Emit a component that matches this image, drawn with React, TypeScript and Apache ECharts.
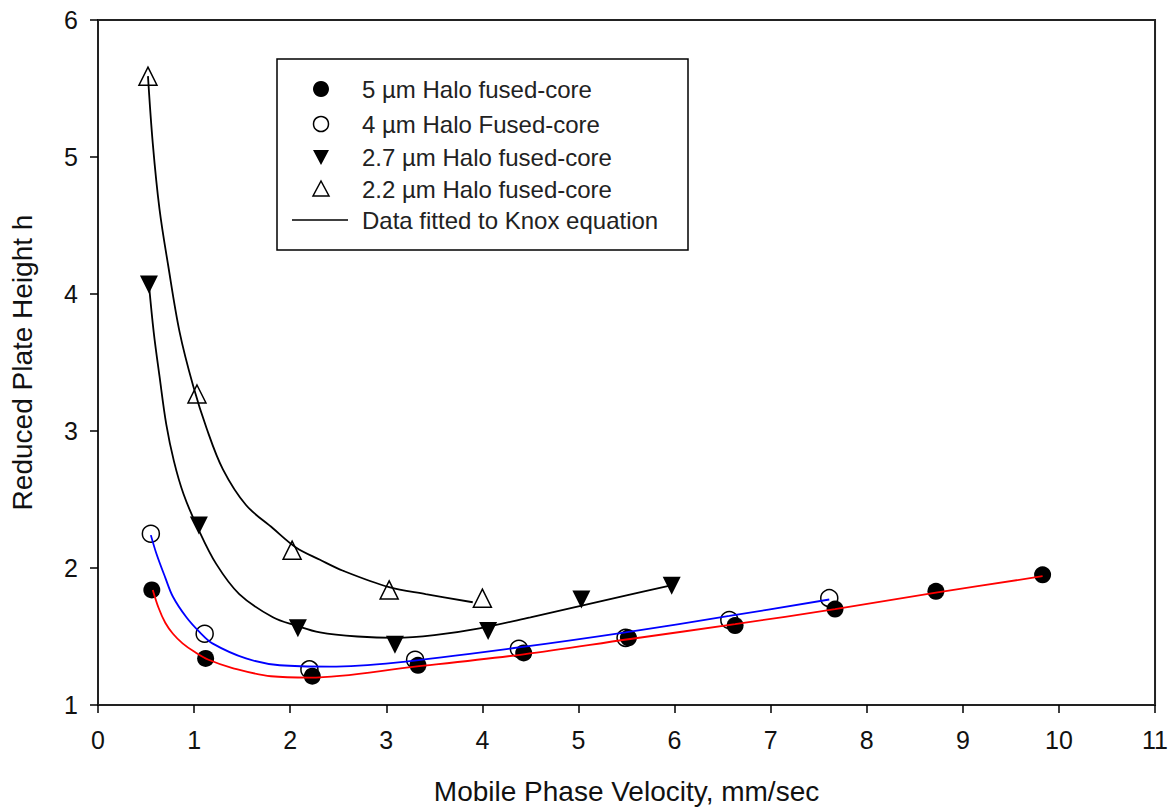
import React, { useEffect, useRef } from "react";
import * as echarts from "echarts";

// Measured points
const v5 = [0.56, 1.12, 2.23, 3.33, 4.43, 5.52, 6.63, 7.67, 8.72, 9.83];
const h5 = [1.84, 1.34, 1.21, 1.29, 1.38, 1.49, 1.58, 1.7, 1.83, 1.95];
const v4 = [0.55, 1.11, 2.2, 3.3, 4.38, 5.49, 6.57, 7.61];
const h4 = [2.25, 1.52, 1.26, 1.33, 1.41, 1.49, 1.62, 1.78];
const v27 = [0.53, 1.05, 2.08, 3.09, 4.06, 5.03, 5.97];
const h27 = [4.07, 2.31, 1.56, 1.44, 1.54, 1.77, 1.87];
const v22 = [0.52, 1.03, 2.02, 3.03, 4.0];
const h22 = [5.59, 3.27, 2.13, 1.84, 1.78];

// Knox fit curves
const fitV5 = [0.57, 0.63, 0.7, 0.78, 0.88, 1.0, 1.15, 1.4, 1.8, 2.2, 3.3, 4.43, 5.52, 6.63, 7.67, 8.72, 9.83];
const fitH5 = [1.84, 1.71, 1.6, 1.52, 1.45, 1.39, 1.33, 1.27, 1.21, 1.2, 1.28, 1.37, 1.48, 1.59, 1.7, 1.82, 1.94];
const fitV4 = [0.55, 0.61, 0.7, 0.78, 0.92, 1.06, 1.19, 1.54, 1.89, 2.41, 3.1, 4.38, 5.49, 6.57, 7.61];
const fitH4 = [2.24, 2.1, 1.93, 1.79, 1.64, 1.53, 1.45, 1.34, 1.29, 1.28, 1.31, 1.42, 1.53, 1.65, 1.77];
const fitV27 = [0.53, 0.58, 0.64, 0.71, 0.79, 0.89, 1.04, 1.23, 1.47, 1.82, 2.06, 2.31, 2.7, 3.1, 3.5, 3.97, 4.5, 5.0, 5.5, 5.94];
const fitH27 = [4.07, 3.72, 3.4, 3.05, 2.78, 2.54, 2.29, 2.03, 1.81, 1.64, 1.58, 1.53, 1.5, 1.49, 1.51, 1.56, 1.64, 1.72, 1.8, 1.87];
const fitV22 = [0.52, 0.57, 0.64, 0.73, 0.85, 0.99, 1.13, 1.3, 1.54, 1.82, 2.06, 2.31, 2.55, 3.03, 3.41, 3.9];
const fitH22 = [5.59, 5.1, 4.62, 4.21, 3.72, 3.33, 3.02, 2.72, 2.46, 2.29, 2.15, 2.06, 1.98, 1.86, 1.81, 1.75];

const xTicks = [0, 11];
const yTicks = [1, 6];
const legendLabels = [
  "5 \u00b5m Halo fused-core",
  "4 \u00b5m Halo Fused-core",
  "2.7 \u00b5m Halo fused-core",
  "2.2 \u00b5m Halo fused-core",
  "Data fitted to Knox equation",
];

const zip = (a: number[], b: number[]) => a.map((v, i) => [v, b[i]]);

export default function App() {
  const ref = useRef<HTMLDivElement>(null);
  useEffect(() => {
    if (!ref.current) return;
    const chart = echarts.init(ref.current, null, { renderer: "svg" });
    const font = "Liberation Sans, Arial, sans-serif";
    const axisCommon = {
      axisLine: { show: true, onZero: false, lineStyle: { color: "#222", width: 2 } },
      axisTick: { show: true, inside: false, length: 8, lineStyle: { color: "#000", width: 1.5 } },
      splitLine: { show: false },
      axisLabel: { color: "#111", fontSize: 25, fontFamily: font },
      nameTextStyle: { color: "#111", fontSize: 28, fontFamily: font },
    };
    const scatter = (name: string, data: number[][], symbol: string, filled: boolean, rotate = 0) => ({
      type: "scatter",
      name,
      data,
      symbol,
      symbolSize: symbol === "circle" ? 17 : 18,
      symbolRotate: rotate,
      z: 2,
      itemStyle: filled
        ? { color: "#000", borderColor: "#000", borderWidth: 0, opacity: 1 }
        : { color: "rgba(0,0,0,0)", borderColor: "#000", borderWidth: 1.5, opacity: 1 },
    });
    const fit = (data: number[][], color: string) => ({
      type: "line",
      data,
      smooth: 0.35,
      showSymbol: false,
      symbol: "none",
      z: 3,
      lineStyle: { color, width: 1.8 },
    });
    const lx = 321;
    const rows = [89, 124, 157, 189, 220];
    const tri = (cx: number, cy: number, down: boolean) =>
      down
        ? [[cx - 8, cy - 7], [cx + 8, cy - 7], [cx, cy + 8]]
        : [[cx - 8, cy + 7], [cx + 8, cy + 7], [cx, cy - 8]];
    chart.setOption({
      animation: false,
      backgroundColor: "#fff",
      grid: { left: 98, right: 14, top: 20, bottom: 102, show: true, borderColor: "#222", borderWidth: 2, backgroundColor: "transparent" },
      xAxis: {
        type: "value",
        min: xTicks[0],
        max: xTicks[1],
        interval: 1,
        name: "Mobile Phase Velocity, mm/sec",
        nameLocation: "middle",
        nameGap: 72,
        ...axisCommon,
        axisLabel: { ...axisCommon.axisLabel, margin: 22 },
      },
      yAxis: {
        type: "value",
        min: yTicks[0],
        max: yTicks[1],
        interval: 1,
        name: "Reduced Plate Height h",
        nameLocation: "middle",
        nameGap: 62,
        ...axisCommon,
        axisLabel: { ...axisCommon.axisLabel, margin: 20 },
      },
      series: [
        scatter(legendLabels[0], zip(v5, h5), "circle", true),
        scatter(legendLabels[1], zip(v4, h4), "circle", false),
        scatter(legendLabels[2], zip(v27, h27), "triangle", true, 180),
        scatter(legendLabels[3], zip(v22, h22), "triangle", false),
        fit(zip(fitV5, fitH5), "#ff0000"),
        fit(zip(fitV4, fitH4), "#0000ff"),
        fit(zip(fitV27, fitH27), "#000"),
        fit(zip(fitV22, fitH22), "#000"),
      ],
      graphic: [
        { type: "rect", shape: { x: 277, y: 59, width: 411, height: 191 }, style: { fill: "#fff", stroke: "#000", lineWidth: 1.5 }, z: 10 },
        { type: "circle", shape: { cx: lx, cy: rows[0], r: 8 }, style: { fill: "#000" }, z: 11 },
        { type: "circle", shape: { cx: lx, cy: rows[1], r: 7.5 }, style: { fill: "none", stroke: "#000", lineWidth: 1.5 }, z: 11 },
        { type: "polygon", shape: { points: tri(lx, rows[2], true) }, style: { fill: "#000" }, z: 11 },
        { type: "polygon", shape: { points: tri(lx, rows[3], false) }, style: { fill: "none", stroke: "#000", lineWidth: 1.5 }, z: 11 },
        { type: "line", shape: { x1: 292, y1: rows[4], x2: 348, y2: rows[4] }, style: { stroke: "#000", lineWidth: 1.5 }, z: 11 },
        ...legendLabels.map((t, i) => ({
          type: "text",
          x: 362,
          y: rows[i],
          z: 11,
          style: { text: t, fill: "#222", font: `24px ${font}`, textVerticalAlign: "middle", verticalAlign: "middle" },
        })),
      ],
    });
    return () => chart.dispose();
  }, []);
  return <div ref={ref} style={{ position: "absolute", left: 0, top: 0, width: 1171, height: 810 }} />;
}
